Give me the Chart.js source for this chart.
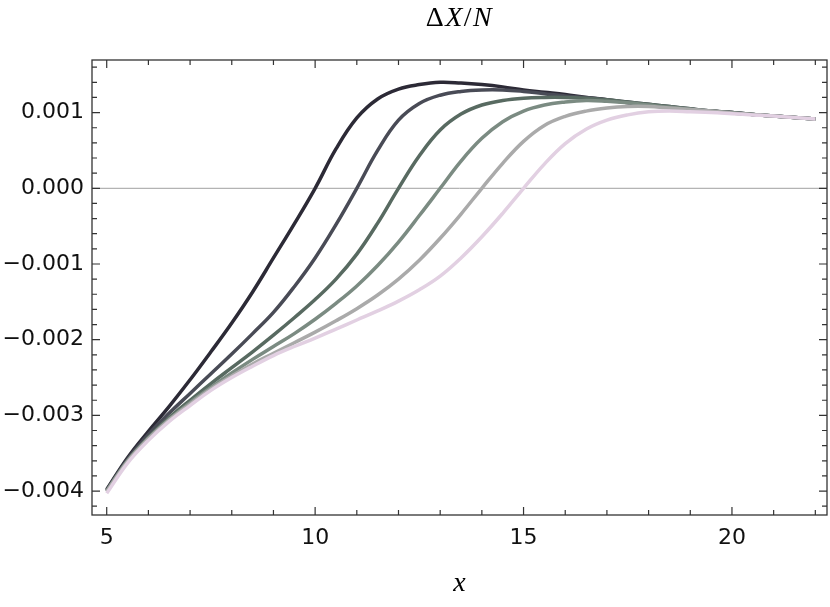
<!DOCTYPE html>
<html>
<head>
<meta charset="utf-8">
<script src="https://cdn.jsdelivr.net/npm/chart.js@4.4.1/dist/chart.umd.min.js"></script>
<style>
  html, body { margin: 0; padding: 0; background: #ffffff; }
  #wrap { width: 830px; height: 607px; position: relative; }
</style>
</head>
<body>
<div id="wrap"><canvas id="c"></canvas></div>
<script>
// ---- data ----
const xValues = [5, 5.5, 6, 6.5, 7, 7.5, 8, 8.5, 9, 9.5, 10, 10.5, 11, 11.5, 12, 12.5, 13, 13.5, 14, 14.5,
                 15, 15.5, 16, 16.5, 17, 17.5, 18, 18.5, 19, 19.5, 20, 20.5, 21, 21.5, 22];

const curve1 = [-0.00398, -0.00356, -0.00321, -0.00288, -0.00253, -0.00216, -0.00178, -0.00137, -0.00092, -0.00047,
                 0.00000, 0.00052, 0.00093, 0.00118, 0.00131, 0.00137, 0.00140, 0.00139, 0.00137, 0.00134,
                 0.00130, 0.00127, 0.00124, 0.00120, 0.00117, 0.00113, 0.00110, 0.00107, 0.001045, 0.00102,
                 0.00100, 0.000975, 0.000955, 0.000935, 0.000915];
const curve2 = [-0.00399, -0.00358, -0.00325, -0.00297, -0.00271, -0.00245, -0.00219, -0.00192, -0.00164, -0.00130,
                -0.00092, -0.00048, 0.00000, 0.00050, 0.00090, 0.00112, 0.00123, 0.00128, 0.00130, 0.00130,
                 0.00128, 0.00125, 0.00122, 0.00120, 0.00117, 0.00114, 0.00111, 0.00108, 0.00105, 0.00102,
                 0.00100, 0.000975, 0.000955, 0.000935, 0.000915];
const curve3 = [-0.00400, -0.00360, -0.00329, -0.00303, -0.00280, -0.00258, -0.00237, -0.00216, -0.00194, -0.00171,
                -0.00147, -0.00120, -0.00087, -0.00046, 0.00000, 0.00043, 0.00077, 0.00098, 0.00110, 0.00116,
                 0.00119, 0.00120, 0.00120, 0.00119, 0.00117, 0.00114, 0.00111, 0.00108, 0.00105, 0.00102,
                 0.00100, 0.000975, 0.000955, 0.000935, 0.000915];
const curve4 = [-0.00400, -0.00360, -0.00330, -0.00305, -0.00283, -0.00263, -0.00244, -0.00226, -0.00209, -0.00192,
                -0.00173, -0.00152, -0.00129, -0.00102, -0.00071, -0.00036, 0.00000, 0.00036, 0.00066, 0.00088,
                 0.00102, 0.00110, 0.00114, 0.00116, 0.00115, 0.00113, 0.00110, 0.00107, 0.001045, 0.00102,
                 0.000995, 0.000975, 0.000955, 0.000935, 0.000915];
const curve5 = [-0.00401, -0.00361, -0.00331, -0.00306, -0.00285, -0.00265, -0.00248, -0.00232, -0.00218, -0.00204,
                -0.00190, -0.00175, -0.00159, -0.00141, -0.00120, -0.00095, -0.00066, -0.00034, 0.00000, 0.00033,
                 0.00062, 0.00083, 0.00095, 0.00102, 0.00106, 0.00108, 0.00108, 0.00106, 0.00104, 0.00102,
                 0.000995, 0.000975, 0.000955, 0.000935, 0.000915];
const curve6 = [-0.00403, -0.00363, -0.00333, -0.00308, -0.00287, -0.00267, -0.00250, -0.00235, -0.00221, -0.00209,
                -0.00198, -0.00186, -0.00174, -0.00162, -0.00149, -0.00134, -0.00116, -0.00092, -0.00064, -0.00033,
                 0.00000, 0.00032, 0.00059, 0.00078, 0.00090, 0.00097, 0.00101, 0.00102, 0.00101, 0.00100,
                 0.000985, 0.00097, 0.000955, 0.000935, 0.000915];

const seriesList = [curve1, curve2, curve3, curve4, curve5, curve6];
const seriesColors = ['#2c2a36', '#494b56', '#586a61', '#7b8b82', '#aaaaaa', '#e2d0e2'];

const xTicks = [5, 10, 15, 20];
const xMinorTicks = [5, 6, 7, 8, 9, 10, 11, 12, 13, 14, 15, 16, 17, 18, 19, 20, 21, 22];
const yTicks = [-0.004, -0.003, -0.002, -0.001, 0.000, 0.001];
const yMinorTicks = [-0.0042, -0.0040, -0.0038, -0.0036, -0.0034, -0.0032, -0.0030, -0.0028, -0.0026, -0.0024,
                     -0.0022, -0.0020, -0.0018, -0.0016, -0.0014, -0.0012, -0.0010, -0.0008, -0.0006, -0.0004,
                     -0.0002, 0.0000, 0.0002, 0.0004, 0.0006, 0.0008, 0.0010, 0.0012, 0.0014, 0.0016];

const xRange = [4.647, 22.28];
const yRange = [-0.004316, 0.001695];

// ---- build datasets ----
const datasets = seriesList.map((vals, i) => ({
  data: xValues.map((x, j) => ({ x: x, y: vals[j] })),
  borderColor: seriesColors[i],
  borderWidth: 3.5,
  pointRadius: 0,
  fill: false,
  tension: 0.4,
  order: seriesList.length - 1 - i
}));

const TICK_FONT = { family: 'DejaVu Sans', size: 22 };

const framePlugin = {
  id: 'frame',
  beforeDatasetsDraw(chart) {
    const { ctx, chartArea: a, scales } = chart;
    const y0 = scales.y.getPixelForValue(0);
    ctx.save();
    ctx.strokeStyle = '#a0a0a0';
    ctx.lineWidth = 1;
    ctx.beginPath();
    ctx.moveTo(a.left, y0);
    ctx.lineTo(a.right, y0);
    ctx.stroke();
    ctx.restore();
  },
  afterDraw(chart) {
    const { ctx, chartArea: a, scales } = chart;
    ctx.save();
    ctx.strokeStyle = '#333333';
    ctx.lineWidth = 1.3;
    ctx.strokeRect(a.left, a.top, a.right - a.left, a.bottom - a.top);
    ctx.lineWidth = 1.2;
    ctx.beginPath();
    const drawX = (v, len) => {
      const px = scales.x.getPixelForValue(v);
      ctx.moveTo(px, a.bottom); ctx.lineTo(px, a.bottom - len);
      ctx.moveTo(px, a.top); ctx.lineTo(px, a.top + len);
    };
    const drawY = (v, len) => {
      const py = scales.y.getPixelForValue(v);
      ctx.moveTo(a.left, py); ctx.lineTo(a.left + len, py);
      ctx.moveTo(a.right, py); ctx.lineTo(a.right - len, py);
    };
    xMinorTicks.forEach(v => drawX(v, xTicks.includes(v) ? 8 : 5));
    yMinorTicks.forEach(v => {
      const major = yTicks.some(t => Math.abs(t - v) < 1e-9);
      drawY(v, major ? 8 : 5);
    });
    ctx.stroke();

    // title  ΔX/N
    const cx = (a.left + a.right) / 2;
    const pieces = [['Δ', 'normal'], ['X', 'italic'], ['/', 'normal'], ['N', 'italic']];
    const fam = "'Liberation Serif', 'DejaVu Serif', serif";
    const size = 28;
    let total = 0;
    const widths = pieces.map(p => {
      ctx.font = p[1] + ' ' + size + 'px ' + fam;
      const w = ctx.measureText(p[0]).width + 1.5;
      total += w;
      return w;
    });
    let xx = cx - total / 2;
    ctx.fillStyle = '#000000';
    ctx.textBaseline = 'alphabetic';
    ctx.textAlign = 'left';
    pieces.forEach((p, i) => {
      ctx.font = p[1] + ' ' + size + 'px ' + fam;
      ctx.fillText(p[0], xx, 26);
      xx += widths[i];
    });

    // x-axis label
    ctx.font = 'italic 28px ' + fam;
    ctx.textAlign = 'center';
    ctx.fillText('x', cx, 591);
    ctx.restore();
  }
};

new Chart(document.getElementById('c'), {
  type: 'line',
  data: { datasets: datasets },
  options: {
    responsive: true,
    maintainAspectRatio: false,
    animation: false,
    layout: { padding: { top: 60, right: 3, left: 0, bottom: 0 } },
    plugins: { legend: { display: false }, tooltip: { enabled: false }, title: { display: false } },
    scales: {
      x: {
        type: 'linear',
        min: xRange[0], max: xRange[1],
        grid: { display: false, drawTicks: false },
        border: { display: false },
        afterBuildTicks: s => { s.ticks = xTicks.map(v => ({ value: v })); },
        afterFit: s => { s.height = 92; },
        ticks: { font: TICK_FONT, color: '#111111', padding: 10, maxRotation: 0,
                 callback: v => String(v) }
      },
      y: {
        type: 'linear',
        min: yRange[0], max: yRange[1],
        grid: { display: false, drawTicks: false },
        border: { display: false },
        afterBuildTicks: s => { s.ticks = yTicks.map(v => ({ value: v })); },
        afterFit: s => { s.width = 92; },
        ticks: { font: TICK_FONT, color: '#111111', padding: 8,
                 callback: v => (v < 0 ? '\u2212' : '') + Math.abs(v).toFixed(3) }
      }
    }
  },
  plugins: [framePlugin]
});
</script>
</body>
</html>
